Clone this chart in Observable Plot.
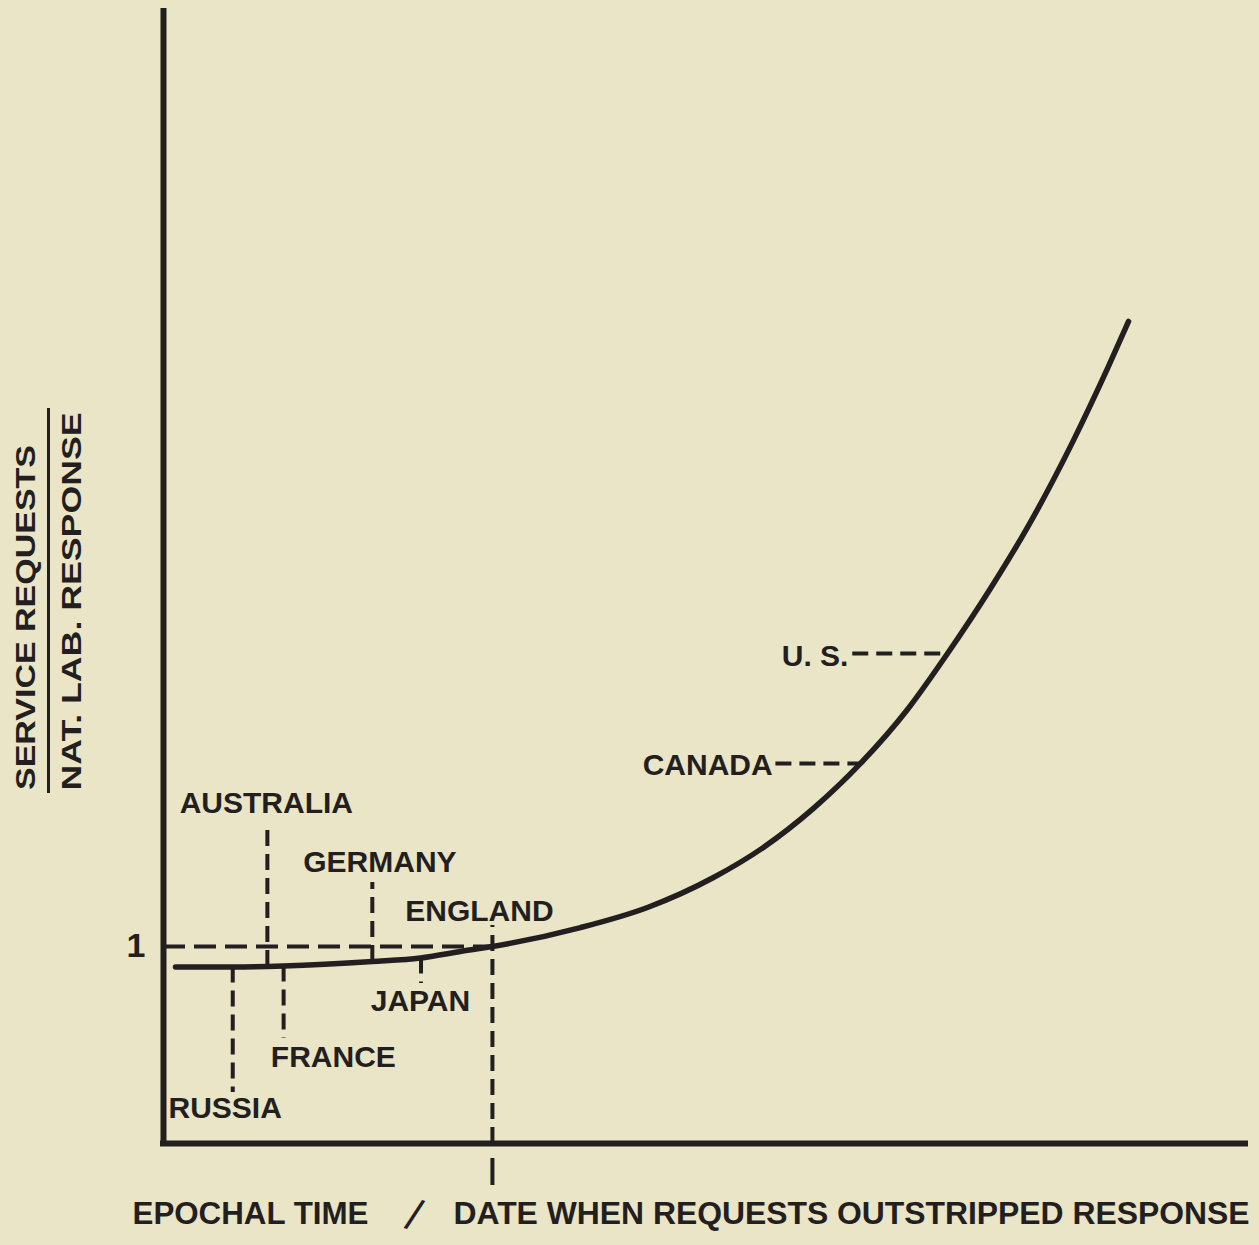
<!DOCTYPE html>
<html>
<head>
<meta charset="utf-8">
<script src="https://cdn.jsdelivr.net/npm/d3@7"></script>
<script src="https://cdn.jsdelivr.net/npm/@observablehq/plot@0.6"></script>
<style>
  html, body { margin: 0; padding: 0; background: #e9e5c6; }
  #chart svg { display: block; }
</style>
</head>
<body>
<div id="chart"></div>
<script>
// ---- data (chart units: epochal time 0–100, ratio requests / response) ----
const curveTime  = [1.11, 6.38, 11.09, 19.32, 23.75, 27.45, 30.41, 38.54, 44.73, 50.83, 55.45, 60.07, 64.42, 68.76, 72.46, 76.43, 79.85, 84.10, 87.25, 89.19];
const curveRatio = [0.896, 0.896, 0.901, 0.924, 0.942, 0.975, 1.0, 1.096, 1.198, 1.350, 1.503, 1.701, 1.929, 2.203, 2.487, 2.817, 3.127, 3.569, 3.934, 4.173];

// countries with vertical leaders
const vCountries   = ["RUSSIA", "FRANCE", "AUSTRALIA", "GERMANY", "JAPAN", "ENGLAND"];
const vDates       = [6.4, 11.1, 9.6, 19.3, 23.8, 30.4];
const vLeaderFrom  = [0.896, 0.901, 0.899, 0.924, 0.942, 0];
const vLeaderTo    = [0.259, 0.533, 1.614, 1.325, 0.812, 1.107];
const vLabelTime   = [5.7, 15.7, 9.5, 20.0, 23.75, 29.2];
const vLabelRatio  = [0.178, 0.437, 1.726, 1.426, 0.721, 1.178];

// countries with horizontal leaders
const hCountries   = ["CANADA", "U. S."];
const hDates       = [64.42, 72.46];
const hRatios      = [1.929, 2.487];
const hLeaderFrom  = [56.6, 63.7];
const hLabelTime   = [56.3, 63.3];
const hLabelRatio  = [1.917, 2.472];

const referenceRatio = [1];          // requests = response
const outstripDate   = [30.4];       // England: date when requests outstripped response

const yTitleTop    = "SERVICE REQUESTS";
const yTitleBottom = "NAT. LAB. RESPONSE";
const xTitleLeft   = "EPOCHAL TIME";
const xTitleSlash  = "/";
const xTitleRight  = "DATE WHEN REQUESTS OUTSTRIPPED RESPONSE";

// ---- build ----
const ink = "#231f20";
const curve = curveTime.map((t, i) => ({t, r: curveRatio[i]}));
const vData = vCountries.map((name, i) => ({name, date: vDates[i], from: vLeaderFrom[i], to: vLeaderTo[i], lt: vLabelTime[i], lr: vLabelRatio[i]}));
const hData = hCountries.map((name, i) => ({name, date: hDates[i], r: hRatios[i], from: hLeaderFrom[i], lt: hLabelTime[i], lr: hLabelRatio[i]}));

const labelFont = {fontFamily: "'Liberation Sans', Arial, sans-serif", fontWeight: "bold", fontSize: 30, fill: ink};
const dash = {stroke: ink, strokeWidth: 4, strokeDasharray: "16,8"};
const yTitleFont = {fontFamily: "'Liberation Sans', Arial, sans-serif", fontWeight: "bold", fontSize: 27, fill: ink};

const chart = Plot.plot({
  width: 1259,
  height: 1245,
  marginLeft: 163,
  marginRight: 14,
  marginTop: 11,
  marginBottom: 102,
  style: {background: "#e9e5c6", color: ink, fontFamily: "'Liberation Sans', Arial, sans-serif"},
  x: {domain: [0, 100], axis: null},
  y: {domain: [0, 5.746], axis: null},
  marks: [
    // reference line at ratio 1
    Plot.ruleY(referenceRatio, {y: d => d, x1: 0, x2: outstripDate[0], stroke: ink, strokeWidth: 4, strokeDasharray: "22,9"}),
    // vertical leaders
    Plot.ruleX(vData, {x: "date", y1: "from", y2: "to", ...dash}),
    // horizontal leaders
    Plot.ruleY(hData, {y: "r", x1: "from", x2: "date", ...dash}),
    // the curve
    Plot.line(curve, {x: "t", y: "r", curve: "monotone-x", stroke: ink, strokeWidth: 5.5, strokeLinecap: "round"}),
    // axes
    Plot.ruleX([0], {stroke: ink, strokeWidth: 6, strokeLinecap: "square"}),
    Plot.ruleY([0], {stroke: ink, strokeWidth: 6, strokeLinecap: "square"}),
    Plot.axisY({ticks: referenceRatio, tickSize: 0, tickPadding: 18, tickFormat: d => String(d), fontSize: 34, fontWeight: "bold", label: null}),
    Plot.axisX({ticks: outstripDate, tickSize: 42, tickFormat: () => "", stroke: ink, strokeWidth: 4, strokeDasharray: "0,15,27,200", label: null}),
    // country labels
    Plot.text(vData, {x: "lt", y: "lr", text: "name", textAnchor: "middle", ...labelFont}),
    Plot.text(hData, {x: "lt", y: "lr", text: "name", textAnchor: "end", ...labelFont}),
    // y title (fraction)
    Plot.text([yTitleTop], {text: d => d, frameAnchor: "left", textAnchor: "middle", rotate: -90, dx: -137, dy: 40, ...yTitleFont}),
    Plot.ruleX([0], {dx: -115, insetTop: 397, insetBottom: 350, stroke: ink, strokeWidth: 3}),
    Plot.text([yTitleBottom], {text: d => d, frameAnchor: "left", textAnchor: "middle", rotate: -90, dx: -91, dy: 24, ...yTitleFont}),
    // x title
    Plot.text([xTitleLeft], {text: d => d, frameAnchor: "bottom-left", textAnchor: "end", dx: 205, dy: 80, ...labelFont, fontSize: 32}),
    Plot.text([xTitleSlash], {text: d => d, frameAnchor: "bottom-left", textAnchor: "middle", rotate: 18, dx: 246, dy: 86, fontFamily: "'Liberation Sans', Arial, sans-serif", fontSize: 44, fill: ink}),
    Plot.text([xTitleRight], {text: d => d, frameAnchor: "bottom-left", textAnchor: "start", dx: 290, dy: 80, ...labelFont, fontSize: 32})
  ]
});

// stretch the axis titles to the widths they have in the original drawing
const titleLengths = new Map([[yTitleTop, 345], [yTitleBottom, 378], [xTitleLeft, 236], [xTitleRight, 796]]);
d3.select(chart).selectAll("text").each(function () {
  const len = titleLengths.get(this.textContent);
  if (len) { this.setAttribute("textLength", len); this.setAttribute("lengthAdjust", "spacingAndGlyphs"); }
});
document.getElementById("chart").appendChild(chart);
</script>
</body>
</html>
